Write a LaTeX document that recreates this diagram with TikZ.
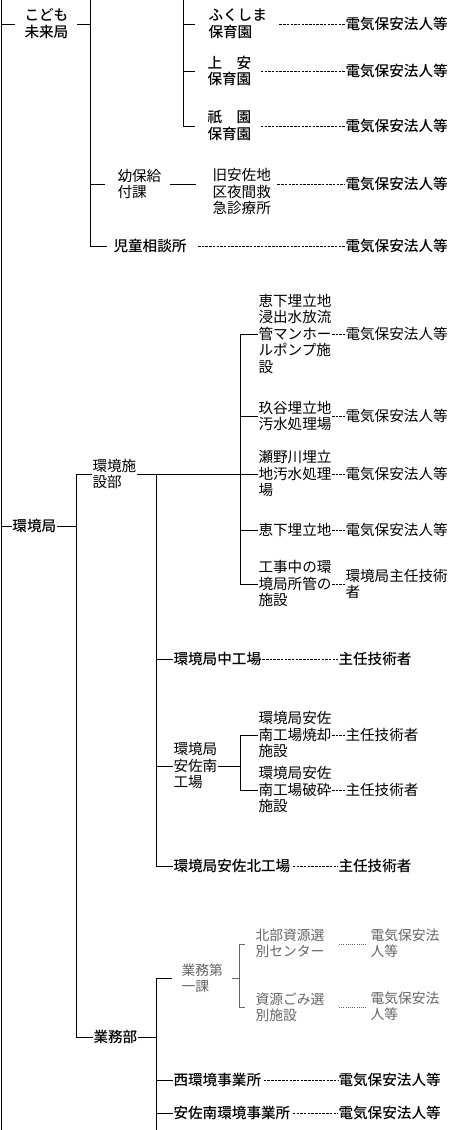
\documentclass[tikz,border=0pt]{standalone}
\usepackage{fontspec}
\setmainfont{Noto Sans CJK JP}[BoldFont={Noto Sans CJK JP Medium}]
\definecolor{gry}{HTML}{656565}
\newcommand{\jst}{\rule[-0.12em]{0pt}{0.88em}}

\begin{document}
\begin{tikzpicture}[x=1pt, y=-1pt, line width=1pt,
	lbl/.style={inner sep=0pt, anchor=west, align=left, execute at begin node=\jst, execute at end node=\jst, font=\fontsize{14.6}{16.5}\selectfont},
	bd/.style={lbl, font=\fontsize{14.6}{16.5}\selectfont\bfseries},
	gr/.style={lbl, text=gry, font=\fontsize{13.8}{16}\selectfont},
	dl/.style={dash pattern=on 2.5pt off 1.2pt, line width=0.8pt},
	dt/.style={gry, dash pattern=on 0.8pt off 1.4pt, line width=0.8pt},
	gl/.style={gry}]
	\useasboundingbox (0, 0) rectangle (448, 1130);
	% Paths, nodes and wires:
	\coordinate (L0) at (1, 0);
	\coordinate (L1) at (1, 1130);
	\coordinate (t1a) at (90, 0);
	\coordinate (t1b) at (90, 246);
	\coordinate (t2a) at (183, 0);
	\coordinate (t2b) at (183, 126);
	\coordinate (t3a) at (76, 474);
	\coordinate (t3b) at (76, 1037);
	\coordinate (t4a) at (156, 474);
	\coordinate (t4b) at (156, 866);
	\coordinate (t6a) at (240, 334);
	\coordinate (t6b) at (240, 584);
	\coordinate (t7a) at (240, 735);
	\coordinate (t7b) at (240, 790);
	\coordinate (t5a) at (156, 978);
	\coordinate (t5b) at (156, 1130);
	\coordinate (bra) at (239, 944);
	\coordinate (brb) at (239, 1007);

	\node[bd] (kodomo) at (24, 24){こども\\未来局};
	\node[bd] (fukushima) at (208, 24){ふくしま\\保育園};
	\node[bd] (joan) at (207, 71){上　安\\保育園};
	\node[bd] (gion) at (207, 126){祇　園\\保育園};
	\node[lbl] (youho) at (117, 184){幼保給\\付課};
	\node[lbl] (kyuasa) at (212, 192){旧安佐地\\区夜間救\\急診療所};
	\node[bd] (jido) at (113, 246){児童相談所};
	\node[bd] (fukushima-r) at (345, 24){電気保安法人等};
	\node[bd] (joan-r) at (345, 71){電気保安法人等};
	\node[bd] (gion-r) at (345, 126){電気保安法人等};
	\node[bd] (kyuasa-r) at (345, 184){電気保安法人等};
	\node[bd] (jido-r) at (345, 246){電気保安法人等};

	\node[bd] (kankyo) at (12, 526){環境局};
	\node[lbl] (shisetsu) at (92, 474){環境施\\設部};
	\node[lbl] (egeps) at (258, 334){恵下埋立地\\浸出水放流\\管マンホー\\ルポンプ施\\設};
	\node[lbl] (kudani) at (258, 416){玖谷埋立地\\汚水処理場};
	\node[lbl] (seno) at (258, 474){瀬野川埋立\\地汚水処理\\場};
	\node[lbl] (ege) at (258, 530){恵下埋立地};
	\node[lbl] (koji) at (258, 584){工事中の環\\境局所管の\\施設};
	\node[lbl] (egeps-r) at (345, 334){電気保安法人等};
	\node[lbl] (kudani-r) at (345, 416){電気保安法人等};
	\node[lbl] (seno-r) at (345, 474){電気保安法人等};
	\node[lbl] (ege-r) at (345, 530){電気保安法人等};
	\node[lbl] (koji-r) at (345, 584){環境局主任技術\\者};
	\node[bd] (naka) at (173, 659){環境局中工場};
	\node[bd] (naka-r) at (338, 659){主任技術者};
	\node[lbl] (asaminami) at (173, 766){環境局\\安佐南\\工場};
	\node[lbl] (asmyaku) at (258, 735){環境局安佐\\南工場焼却\\施設};
	\node[lbl] (asmhasai) at (258, 790){環境局安佐\\南工場破砕\\施設};
	\node[lbl] (asmyaku-r) at (345, 735){主任技術者};
	\node[lbl] (asmhasai-r) at (345, 790){主任技術者};
	\node[bd] (asakita) at (173, 866){環境局安佐北工場};
	\node[bd] (asakita-r) at (338, 866){主任技術者};

	\node[bd] (gyomu) at (93, 1037){業務部};
	\node[gr] (daiichi) at (181, 978){業務第\\一課};
	\node[gr] (hokubu) at (255, 944){北部資源選\\別センター};
	\node[gr] (shigen) at (255, 1007){資源ごみ選\\別施設};
	\node[gr] (hokubu-r) at (370, 944){電気保安法\\人等};
	\node[gr] (shigen-r) at (370, 1007){電気保安法\\人等};
	\node[bd] (nishi) at (173, 1080){西環境事業所};
	\node[bd] (asaminamij) at (173, 1113){安佐南環境事業所};
	\node[bd] (nishi-r) at (338, 1080){電気保安法人等};
	\node[bd] (asaminamij-r) at (338, 1113){電気保安法人等};

	\draw (L0) -- (L1);
	\draw (t1a) -- (t1b);
	\draw (t2a) -- (t2b);
	\draw[shorten >=9pt] (L0 |- kodomo.west) -- (kodomo.west);
	\draw[shorten <=8pt] (kodomo.east) -- (t1a |- kodomo.east);
	\draw[shorten >=13pt] (t2a |- fukushima.west) -- (fukushima.west);
	\draw[shorten >=12pt] (t2a |- joan.west) -- (joan.west);
	\draw[shorten >=12pt] (t2b) -- (gion.west);
	\draw[shorten >=12pt] (t1a |- youho.west) -- (youho.west);
	\draw[shorten <=8pt, shorten >=16pt] (youho.east) -- (youho.east -| kyuasa.west);
	\draw[shorten >=6pt] (t1b) -- (jido.west);
	\draw[dl, shorten <=12pt] (fukushima.east) -- (fukushima-r.west);
	\draw[dl, shorten <=9pt] (joan.east) -- (joan-r.west);
	\draw[dl, shorten <=9pt] (gion.east) -- (gion-r.west);
	\draw[dl, shorten <=6pt] ([yshift=8pt]kyuasa.east) -- (kyuasa-r.west);
	\draw[dl, shorten <=11pt] (jido.east) -- (jido-r.west);

	\draw (L0 |- kankyo.west) -- (kankyo.west);
	\draw (kankyo.east) -- (t3a |- kankyo.east);
	\draw (t3a) -- (t3b);
	\draw (t3a) -- (shisetsu.west);
	\draw (shisetsu.east) -- (t6a |- shisetsu.east);
	\draw (t4a) -- (t4b);
	\draw (t6a) -- (t6b);
	\foreach \n in {egeps, kudani, seno, ege, koji} {
		\draw (t6a |- \n.west) -- (\n.west);
		\draw[dl] (\n.east) -- (\n-r.west);
	}
	\draw (t4a |- naka.west) -- (naka.west);
	\draw[dl, shorten <=-3pt] (naka.east) -- (naka-r.west);
	\draw (t4a |- asaminami.west) -- (asaminami.west);
	\draw (asaminami.east) -- (t7a |- asaminami.east);
	\draw (t7a) -- (t7b);
	\draw (t7a) -- (asmyaku.west);
	\draw (t7b) -- (asmhasai.west);
	\draw[dl] (asmyaku.east) -- (asmyaku-r.west);
	\draw[dl] (asmhasai.east) -- (asmhasai-r.west);
	\draw (t4b) -- (asakita.west);
	\draw[dl, shorten <=2pt] (asakita.east) -- (asakita-r.west);

	\draw (t3b) -- (gyomu.west);
	\draw (gyomu.east) -- (t5a |- gyomu.east);
	\draw (t5a) -- (t5b);
	\draw[shorten >=9pt] (t5a) -- (daiichi.west);
	\draw[gl, shorten <=9pt] (daiichi.east) -- (bra |- daiichi.east);
	\draw[gl] (bra) -- (brb);
	\draw[gl, shorten >=10pt] (bra) -- (hokubu.west);
	\draw[gl, shorten >=10pt] (brb) -- (shigen.west);
	\draw[dt, shorten <=14pt, shorten >=3pt] (hokubu.east) -- (hokubu-r.west);
	\draw[dt, shorten <=14pt, shorten >=3pt] (shigen.east) -- (shigen-r.west);
	\draw (t5a |- nishi.west) -- (nishi.west);
	\draw (t5a |- asaminamij.west) -- (asaminamij.west);
	\draw[dl, shorten <=2pt] (nishi.east) -- (nishi-r.west);
	\draw[dl, shorten <=2pt] (asaminamij.east) -- (asaminamij-r.west);
\end{tikzpicture}
\end{document}
